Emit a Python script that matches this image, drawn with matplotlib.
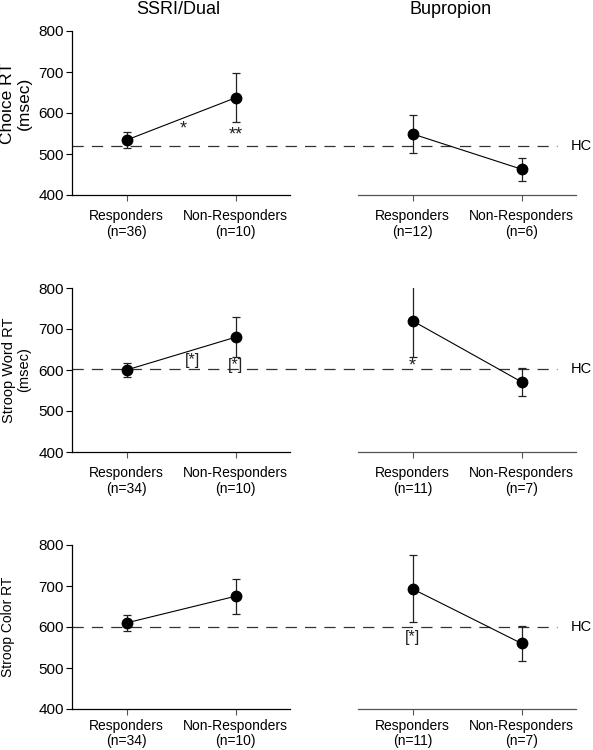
import matplotlib
matplotlib.use("Agg")
import matplotlib.pyplot as plt

plt.rcParams['font.family'] = ['Liberation Sans', 'DejaVu Sans']

# values (msec), mean and error bar half-length
groups = ["Responders", "Non-Responders"]
ssri_n = [[36, 10], [34, 10], [34, 10]]
bup_n = [[12, 6], [11, 7], [11, 7]]

ssri_mean = [[534, 637], [600, 680], [610, 675]]
ssri_err = [[20, 60], [18, 49], [20, 43]]
bup_mean = [[549, 463], [720, 571], [693, 560]]
bup_err = [[46, 28], [88, 34], [82, 42]]

hc_values = [520, 603, 600]
row_labels = ["Choice RT\n(msec)", "Stroop Word RT\n(msec)", "Stroop Color RT"]
label_sizes = [12.5, 10.5, 10]
label_x = [16, 17, 8]

# significance marks: (column, x, y, text)
marks = [
    [(0, 0.52, 562, "*"), (0, 1.0, 547, "**")],
    [(0, 0.61, 623, "[*]"), (0, 1.0, 610, "[*]"), (1, 0.0, 611, "*")],
    [(1, 0.0, 575, "[*]")],
]

W, H = 593, 750
fig = plt.figure(figsize=(W / 100, H / 100), dpi=100)

row_tops = [31, 288, 545]
row_h = 164
col_left = [72, 358]
col_w = 218
x_pads = [6, 6, 3]

for r in range(3):
    axes = []
    for c in range(2):
        ax = fig.add_axes([col_left[c] / W, 1 - (row_tops[r] + row_h) / H, col_w / W, row_h / H])
        ax.set_xlim(-0.5, 1.5)
        ax.set_ylim(400, 800)
        ax.spines['top'].set_visible(False)
        ax.spines['right'].set_visible(False)
        ax.patch.set_alpha(0)
        n = ssri_n[r] if c == 0 else bup_n[r]
        ax.set_xticks([0, 1])
        ax.set_xticklabels([f"{g}\n(n={k})" for g, k in zip(groups, n)], fontsize=10,
                           linespacing=1.15 if r < 2 else 1.1)
        ax.tick_params(axis='x', length=4, width=0.8, pad=x_pads[r], color='#555555')
        if c == 0:
            ax.set_yticks([400, 500, 600, 700, 800])
            ax.tick_params(axis='y', length=4, width=0.8, labelsize=11, pad=2)
            ax.spines['left'].set_linewidth(0.9)
            ax.spines['bottom'].set_linewidth(0.9)
            mean, err = ssri_mean[r], ssri_err[r]
        else:
            ax.spines['left'].set_visible(False)
            ax.set_yticks([])
            ax.spines['bottom'].set_color('#555555')
            ax.spines['bottom'].set_linewidth(0.9)
            mean, err = bup_mean[r], bup_err[r]
        ax.errorbar([0, 1], mean, yerr=err, fmt='o-', color='black', ms=7.5, lw=0.8,
                    ecolor='#222222', elinewidth=0.9, capsize=3, capthick=0.9, zorder=3)
        axes.append(ax)

    # HC reference line runs across both panels
    axes[0].plot([-0.5, 3.95], [hc_values[r]] * 2, color='#333333', lw=0.9,
                 dashes=(9, 6.5), clip_on=False, zorder=1)
    axes[1].text(1.455, hc_values[r], "HC", fontsize=10.5, ha='left', va='center')

    for c, x, y, t in marks[r]:
        size = 11.5 if t.startswith("[") else 13
        axes[c].text(x, y, t, fontsize=size, ha='center', va='center', color='#222222')

    fig.text(label_x[r] / W, 1 - (row_tops[r] + row_h / 2 + (-10 if r == 0 else 0)) / H,
             row_labels[r], rotation=90, ha='center', va='center',
             fontsize=label_sizes[r], multialignment='center', linespacing=1.1)

fig.text(178 / W, 1 - 10 / H, "SSRI/Dual", fontsize=13, ha='center', va='center')
fig.text(451 / W, 1 - 10 / H, "Bupropion", fontsize=13, ha='center', va='center')

fig.savefig("out.png", dpi=100)
